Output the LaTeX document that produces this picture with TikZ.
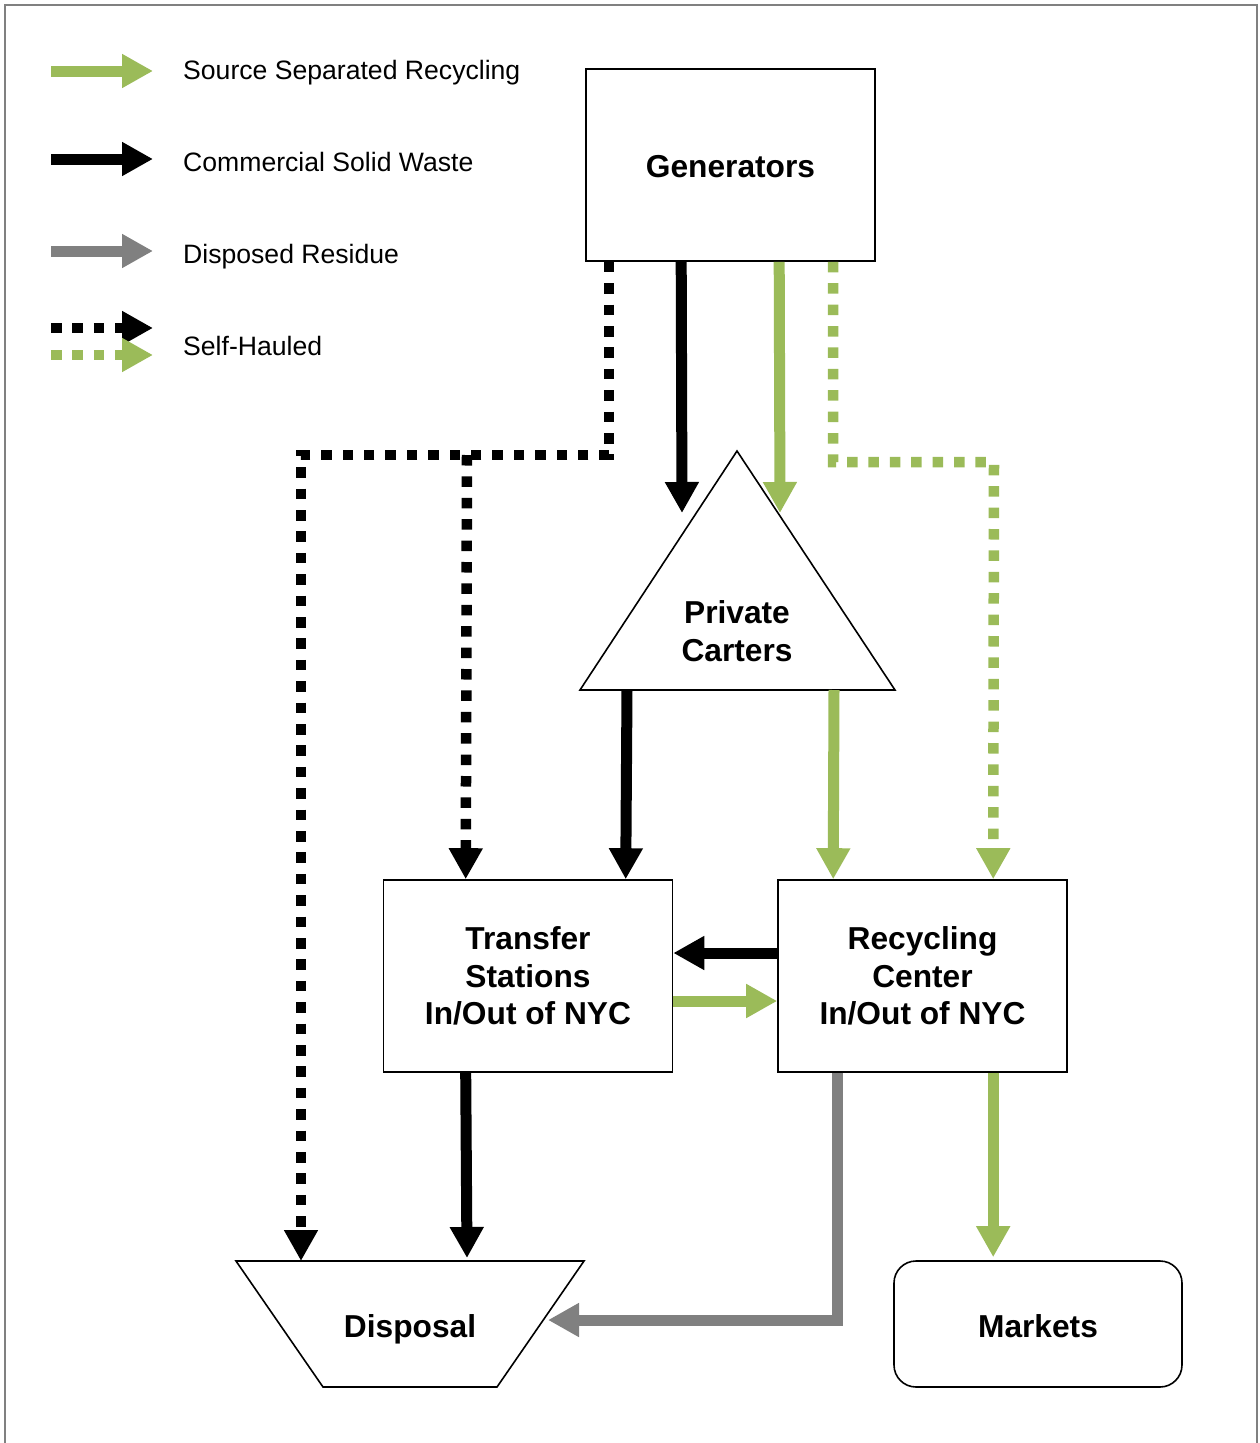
\documentclass[tikz,border=0pt]{standalone}
\usepackage{fontspec}
\setmainfont{Liberation Sans}
\usetikzlibrary{arrows.meta}
\definecolor{rgreen}{HTML}{9BBB59}
\definecolor{rgray}{HTML}{808080}
\newcommand\lblfont{\bfseries\fontsize{31.7}{37.5}\selectfont}
\newcommand\lgdfont{\fontsize{26.6}{30}\selectfont}
\begin{document}
\begin{tikzpicture}[x=1pt,y=-1pt,
  tip/.style={-{Triangle[width=32pt,length=31pt]}},
  flow/.style={line width=11pt,tip},
  dots/.style={line width=10.5pt,dash pattern=on 10.5pt off 10.9pt},
  box/.style={draw,line width=1.6pt,minimum width=289pt,minimum height=192pt,inner sep=0pt,font=\lblfont,align=center},
  lab/.style={font=\lblfont,align=center},
  legtext/.style={anchor=base west,inner sep=0pt,font=\lgdfont}]
\useasboundingbox (0,0) rectangle (1259,1443);
% frame
\draw[rgray,line width=2pt] (5,1443) -- (5,5) -- (1257,5) -- (1257,1443);

% legend
\coordinate (l1a) at (51,71);  \coordinate (l1b) at (153,71);
\coordinate (l2a) at (51,159); \coordinate (l2b) at (153,159);
\coordinate (l3a) at (51,251); \coordinate (l3b) at (153,251);
\coordinate (l4a) at (51,328); \coordinate (l4b) at (153,328);
\coordinate (l5a) at (51,355); \coordinate (l5b) at (153,355);
\draw[flow,rgreen] (l1a) -- (l1b);
\draw[flow,black] (l2a) -- (l2b);
\draw[flow,rgray] (l3a) -- (l3b);
\draw[dots,tip,black] (l4a) -- (l4b);
\draw[dots,tip,rgreen] (l5a) -- (l5b);
\node[legtext] (t1) at (183,79.5) {Source Separated Recycling};
\node[legtext] (t2) at (183,171.5) {Commercial Solid Waste};
\node[legtext] (t3) at (183,263.5) {Disposed Residue};
\node[legtext] (t4) at (183,355.5) {Self-Hauled};

% nodes
\node[box] (gen) at (730.5,165) {};
\node[lab] (gent) at (730.5,167) {Generators};
\node[box] (ts) at (528,976) {Transfer\\Stations\\In/Out of NYC};
\node[box] (rc) at (922.5,976) {Recycling\\Center\\In/Out of NYC};
\node[box,rounded corners=22pt,minimum width=288pt,minimum height=126pt] (mk) at (1038,1324) {};
\node[lab] (mkt) at (1038,1326) {Markets};

\coordinate (pcA) at (737,451);
\coordinate (pcL) at (580,690);
\coordinate (pcR) at (895,690);
\draw[line width=1.6pt] (pcA) -- (pcR) -- (pcL) -- cycle;
\node[lab] (pc) at (737,631) {Private\\Carters};

\coordinate (dTL) at (236,1261);
\coordinate (dTR) at (584,1261);
\coordinate (dBR) at (497,1387);
\coordinate (dBL) at (323,1387);
\draw[line width=1.6pt] (dTL) -- (dTR) -- (dBR) -- (dBL) -- cycle;
\node[lab] (disp) at (410,1329) {Disposal};
\coordinate (dR) at (548,1320);

% connectors
\coordinate (jn) at (467,455);
\draw[dots,tip,black] ([xshift=24pt]gen.south west) |- (301,455) -- ([xshift=65pt]dTL);
\draw[dots,tip,black] (jn) -- ([xshift=83pt]ts.north west);
\draw[dots,tip,rgreen] ([xshift=248pt]gen.south west) |- (994,462) -- ([xshift=216pt]rc.north west);

\draw[flow,black] ([xshift=96pt]gen.south west) -- (682,513);
\draw[flow,rgreen] ([xshift=194pt]gen.south west) -- (780,513);

\draw[flow,black] (627,690) -- ([xshift=243pt]ts.north west);
\draw[flow,rgreen] (834,690) -- ([xshift=56pt]rc.north west);

\draw[flow,black] ([yshift=23pt]rc.west) -- ([yshift=23pt]ts.east);
\draw[flow,rgreen] ([yshift=-25pt]ts.east) -- ([yshift=-25pt]rc.west);

\draw[flow,black] ([xshift=83pt]ts.south west) -- ([xshift=231pt,yshift=3pt]dTL);
\draw[flow,rgray] ([xshift=60pt]rc.south west) |- (dR);
\draw[flow,rgreen] ([xshift=216pt]rc.south west) -- ([xshift=100pt,yshift=3pt]mk.north west);
\end{tikzpicture}
\end{document}
